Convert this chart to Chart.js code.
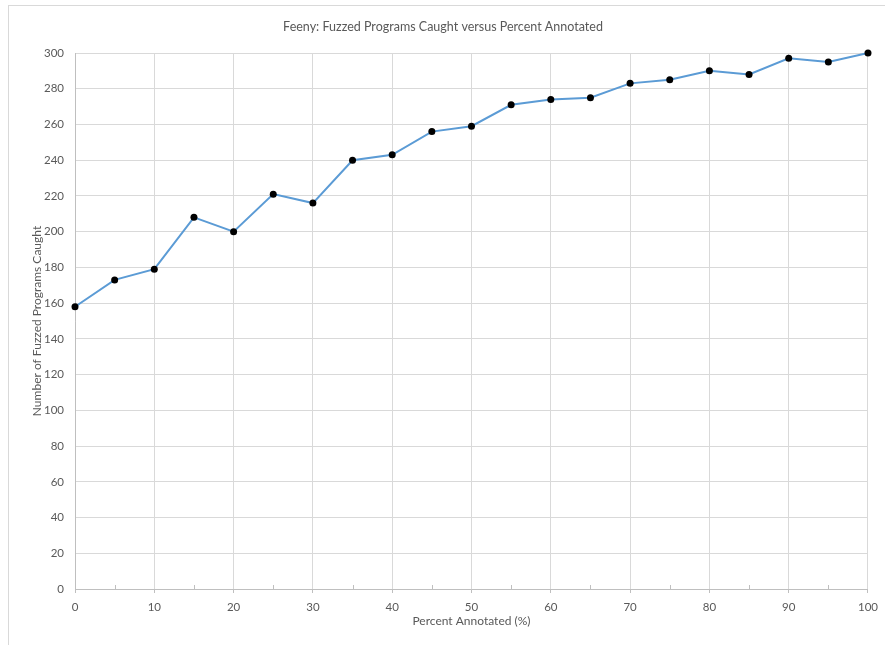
<!DOCTYPE html>
<html>
<head>
<meta charset="utf-8">
<script src="https://cdn.jsdelivr.net/npm/chart.js@4.4.1/dist/chart.umd.min.js"></script>
<style>
  html, body { margin: 0; padding: 0; background: #fff; overflow: hidden; }
  #wrap { position: relative; width: 885px; height: 645px; overflow: hidden; }
  #frame { position: absolute; left: 8px; top: 5px; width: 2000px; height: 2000px; border: 1px solid #d9d9d9; }
  #myChart { position: absolute; left: 0; top: 0; }
</style>
</head>
<body>
<div id="wrap">
  <div id="frame"></div>
  <canvas id="myChart" width="885" height="645"></canvas>
</div>
<script>
const chartTitle = 'Feeny: Fuzzed Programs Caught versus Percent Annotated';
const xTitle = 'Percent Annotated (%)';
const yTitle = 'Number of Fuzzed Programs Caught';

const percentAnnotated = [0, 5, 10, 15, 20, 25, 30, 35, 40, 45, 50, 55, 60, 65, 70, 75, 80, 85, 90, 95, 100];
const programsCaught = [158, 173, 179, 208, 200, 221, 216, 240, 243, 256, 259, 271, 274, 275, 283, 285, 290, 288, 297, 295, 300];
const minorTicks = [5, 15, 25, 35, 45, 55, 65, 75, 85, 95];

const textColor = '#595959';
const gridColor = '#d9d9d9';
const axisColor = '#bfbfbf';

// small tick marks between the labelled ones, drawn on the x scale
const minorTickPlugin = {
    id: 'minorTicks',
    afterDatasetsDraw(chart) {
        const ctx = chart.ctx;
        const xs = chart.scales.x;
        const bottom = chart.chartArea.bottom;
        ctx.save();
        ctx.strokeStyle = axisColor;
        ctx.lineWidth = 1;
        minorTicks.forEach(v => {
            const px = Math.round(xs.getPixelForValue(v)) + 0.5;
            ctx.beginPath();
            ctx.moveTo(px, bottom - 4);
            ctx.lineTo(px, bottom);
            ctx.stroke();
        });
        ctx.restore();
    }
};

Chart.defaults.font.family = 'Lato, "Open Sans", sans-serif';
Chart.defaults.color = textColor;

const ctx = document.getElementById('myChart').getContext('2d');
new Chart(ctx, {
    type: 'line',
    data: {
        datasets: [{
            data: percentAnnotated.map((p, i) => ({ x: p, y: programsCaught[i] })),
            borderColor: '#5b9bd5',
            borderWidth: 2,
            pointBackgroundColor: '#000',
            pointBorderColor: '#000',
            pointRadius: 3.5,
            pointBorderWidth: 0,
            tension: 0,
            clip: false
        }]
    },
    options: {
        responsive: false,
        animation: false,
        layout: { padding: { left: 17, right: 16, top: 0, bottom: 0 } },
        plugins: {
            legend: { display: false },
            tooltip: { enabled: false },
            title: {
                display: true,
                text: chartTitle,
                color: textColor,
                font: { size: 12.5, weight: 'normal' },
                padding: { top: 19.5, bottom: 18.5 }
            }
        },
        scales: {
            x: {
                type: 'linear',
                min: 0,
                max: 100,
                afterFit: s => { s.height = 56; },
                ticks: { stepSize: 10, padding: 7, color: textColor, font: { size: 11.5 } },
                grid: { color: gridColor, tickLength: 4, tickColor: axisColor },
                border: { color: axisColor },
                title: { display: true, text: xTitle, color: textColor, font: { size: 12 }, padding: { top: 0, bottom: 17 } }
            },
            y: {
                min: 0,
                max: 300,
                afterFit: s => { s.width = 58; },
                ticks: { stepSize: 20, padding: 11, color: textColor, font: { size: 11.5 } },
                grid: { color: gridColor, drawTicks: false },
                border: { color: axisColor },
                title: { display: true, text: yTitle, color: textColor, font: { size: 12 }, padding: { top: 12.5, bottom: 0 } }
            }
        }
    },
    plugins: [minorTickPlugin]
});
</script>
</body>
</html>
